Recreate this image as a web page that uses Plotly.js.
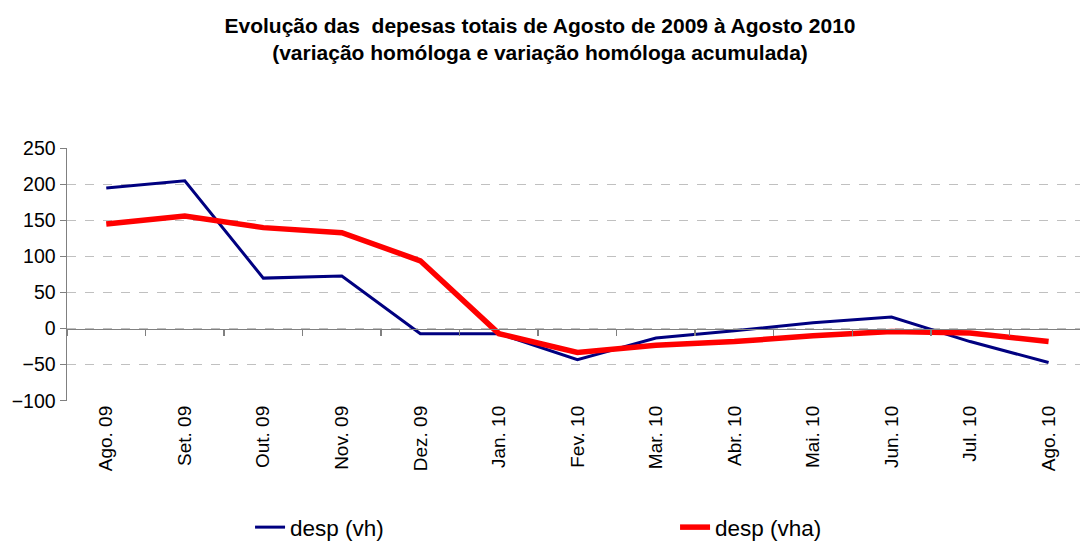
<!DOCTYPE html>
<html>
<head>
<meta charset="utf-8">
<script src="https://cdn.plot.ly/plotly-3.0.1.min.js"></script>
<style>html,body{margin:0;padding:0;background:#fff;}#chart{width:1080px;height:542px;}</style>
</head>
<body>
<div id="chart"></div>
<script>
const months = ["Ago. 09","Set. 09","Out. 09","Nov. 09","Dez. 09","Jan. 10","Fev. 10","Mar. 10","Abr. 10","Mai. 10","Jun. 10","Jul. 10","Ago. 10"];
const despVh  = [195, 205, 70, 73, -7, -7, -43, -13, -3, 8, 16, -18, -47];
const despVha = [145, 156, 140, 133, 94, -7, -33, -23, -18, -10, -4, -6, -18];
const yTicks = [-100, -50, 0, 50, 100, 150, 200, 250];

const idx = months.map((_, i) => i);
const yMin = -100.4, yMax = 250.4;
const zeroPos = (0 - yMin) / (yMax - yMin);
const boundaries = months.map((_, i) => i - 0.5).concat([months.length - 0.5]);
const xRange = [-0.5, 12.4];
const FONT = "Liberation Sans, Arial, sans-serif";

const traces = [
  {x: idx, y: despVh, name: "desp (vh)", type: "scatter", mode: "lines",
   line: {color: "#000080", width: 3}},
  {x: idx, y: despVha, name: "desp (vha)", type: "scatter", mode: "lines",
   line: {color: "#FF0000", width: 5.5}},
  {x: [0], y: [0], xaxis: "x2", yaxis: "y", type: "scatter", mode: "markers",
   marker: {opacity: 0}, showlegend: false, hoverinfo: "skip"}
];

const layout = {
  width: 1080, height: 542,
  paper_bgcolor: "#fff", plot_bgcolor: "#fff",
  font: {family: FONT, color: "#000", size: 19},
  title: {text: "<b>Evolução das  depesas totais de Agosto de 2009 à Agosto 2010<br>(variação homóloga e variação homóloga acumulada)</b>",
          x: 0.5, xref: "container", xanchor: "center", yref: "container", y: 0.94, yanchor: "top",
          font: {size: 21, family: FONT, color: "#000"}},
  margin: {l: 67, r: 0, t: 148, b: 141, autoexpand: false},
  showlegend: true,
  legend: {orientation: "h", xref: "paper", yref: "paper",
           x: 0.1807, y: -0.5, xanchor: "left", yanchor: "middle",
           font: {family: FONT, size: 22.5, color: "#000"},
           entrywidth: 380, entrywidthmode: "pixels", traceorder: "normal",
           bgcolor: "rgba(0,0,0,0)"},
  xaxis: {type: "linear", range: xRange, tickmode: "array", tickvals: idx, ticktext: months,
          tickangle: -90, showgrid: false, zeroline: false, showline: false, ticks: "",
          tickfont: {size: 19}, automargin: false},
  xaxis2: {overlaying: "x", anchor: "free", position: zeroPos, range: xRange,
           tickmode: "array", tickvals: boundaries, ticks: "outside", ticklen: 6, tickcolor: "#808080",
           tickwidth: 1.5, showticklabels: false, showline: true, linecolor: "#808080", linewidth: 1.5,
           showgrid: false, zeroline: false},
  yaxis: {range: [yMin, yMax], tickmode: "array", tickvals: yTicks, ticks: "outside", ticklen: 6,
          tickcolor: "#808080", tickwidth: 1.5, showline: true, linecolor: "#808080", linewidth: 1.5,
          showgrid: true, gridcolor: "#c0c0c0", griddash: "dash", gridwidth: 1,
          zeroline: false, tickfont: {size: 19.5}, automargin: false}
};

Plotly.newPlot("chart", traces, layout, {displayModeBar: false, staticPlot: true});
</script>
</body>
</html>
